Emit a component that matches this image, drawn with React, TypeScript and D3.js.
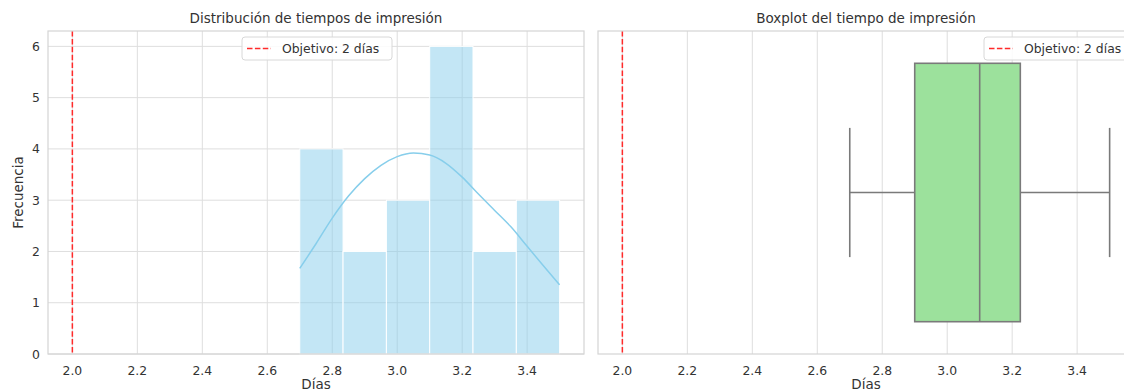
import React from 'react';
import * as d3 from 'd3';

// histogram of printing times (days)
const binEdges = [2.7, 2.8333, 2.9667, 3.1, 3.2333, 3.3667, 3.5];
const binCounts = [4, 2, 3, 6, 2, 3];

// kde curve (scaled to counts)
const kdeDays = [2.7, 2.75, 2.8, 2.85, 2.9, 2.95, 3.0, 3.05, 3.1, 3.15, 3.2, 3.25, 3.3, 3.35, 3.4, 3.45, 3.5];
const kdeFreq = [1.67, 2.15, 2.65, 3.08, 3.42, 3.68, 3.85, 3.92, 3.88, 3.72, 3.45, 3.12, 2.8, 2.48, 2.1, 1.72, 1.35];

// boxplot summary
const boxStats = { low: 2.7, q1: 2.9, median: 3.1, q3: 3.225, high: 3.5 };

const target = 2;
const xTicks = [2.0, 2.2, 2.4, 2.6, 2.8, 3.0, 3.2, 3.4];
const yTicks = [0, 1, 2, 3, 4, 5, 6];

const W = 1124;
const H = 392;
const FONT = 'DejaVu Sans, sans-serif';
const TEXT = '#333333';
const GRID = '#dedede';
const TICK_SIZE = 12.4;
const LABEL_SIZE = 13.5;

export default function App() {
  const ref = React.useRef<SVGSVGElement>(null);

  React.useEffect(() => {
    document.body.style.margin = '0';
    if (!ref.current) return;
    const svg = d3.select(ref.current);
    svg.selectAll('*').remove();

    const top = 31, bottom = 354;

    const drawLegend = (g: any, x0: number) => {
      const w = 150, h = 23;
      const lg = g.append('g').attr('transform', `translate(${x0},${top + 6})`);
      lg.append('rect').attr('width', w).attr('height', h).attr('rx', 3)
        .attr('fill', 'white').attr('fill-opacity', 0.85).attr('stroke', '#d8d8d8');
      lg.append('line').attr('x1', 5).attr('x2', 29).attr('y1', h / 2).attr('y2', h / 2)
        .attr('stroke', '#ff2a2a').attr('stroke-width', 1.5).attr('stroke-dasharray', '5.5,2.4');
      lg.append('text').attr('x', 40).attr('y', h / 2 + 4.5).text('Objetivo: 2 días')
        .attr('font-size', TICK_SIZE).attr('fill', TEXT).attr('font-family', FONT);
    };

    const xAxisStuff = (g: any, x: any, left: number, right: number) => {
      g.append('g').selectAll('line').data(xTicks).enter().append('line')
        .attr('x1', (d: number) => x(d)).attr('x2', (d: number) => x(d))
        .attr('y1', top).attr('y2', bottom).attr('stroke', GRID).attr('stroke-width', 1);
      g.append('g').selectAll('text').data(xTicks).enter().append('text')
        .attr('x', (d: number) => x(d)).attr('y', bottom + 21)
        .attr('text-anchor', 'middle').attr('font-size', TICK_SIZE).attr('fill', TEXT)
        .attr('font-family', FONT).text((d: number) => d3.format('.1f')(d));
      g.append('text').attr('x', (left + right) / 2).attr('y', bottom + 35)
        .attr('text-anchor', 'middle').attr('font-size', LABEL_SIZE).attr('fill', TEXT)
        .attr('font-family', FONT).text('Días');
    };

    /* left panel: histogram + kde */
    {
      const left = 48, right = 584;
      const x = d3.scaleLinear().domain([1.925, 3.575]).range([left, right]);
      const y = d3.scaleLinear().domain([0, 6.3]).range([bottom, top]);
      const g = svg.append('g');

      g.append('g').selectAll('line').data(yTicks).enter().append('line')
        .attr('x1', left).attr('x2', right)
        .attr('y1', (d) => y(d)).attr('y2', (d) => y(d))
        .attr('stroke', GRID).attr('stroke-width', 1);
      g.append('g').selectAll('text').data(yTicks).enter().append('text')
        .attr('x', left - 8).attr('y', (d) => y(d) + 4.5)
        .attr('text-anchor', 'end').attr('font-size', TICK_SIZE).attr('fill', TEXT)
        .attr('font-family', FONT).text((d) => d);
      xAxisStuff(g, x, left, right);

      g.append('text')
        .attr('transform', `translate(23,${(top + bottom) / 2}) rotate(-90)`)
        .attr('text-anchor', 'middle').attr('font-size', LABEL_SIZE).attr('fill', TEXT)
        .attr('font-family', FONT).text('Frecuencia');

      g.append('g').selectAll('rect').data(binCounts).enter().append('rect')
        .attr('x', (d, i) => x(binEdges[i]))
        .attr('width', (d, i) => x(binEdges[i + 1]) - x(binEdges[i]))
        .attr('y', (d) => y(d))
        .attr('height', (d) => y(0) - y(d))
        .attr('fill', '#87ceeb').attr('fill-opacity', 0.5)
        .attr('stroke', 'white').attr('stroke-width', 1);

      const kde = d3.line<number>()
        .x((d, i) => x(kdeDays[i]))
        .y((d) => y(d))
        .curve(d3.curveMonotoneX);
      g.append('path').attr('d', kde(kdeFreq) as string)
        .attr('fill', 'none').attr('stroke', '#87ceeb').attr('stroke-width', 1.5);

      g.append('line').attr('x1', x(target)).attr('x2', x(target))
        .attr('y1', top).attr('y2', bottom)
        .attr('stroke', '#ff2a2a').attr('stroke-width', 1.5).attr('stroke-dasharray', '5.5,2.4');

      g.append('rect').attr('x', left).attr('y', top).attr('width', right - left)
        .attr('height', bottom - top).attr('fill', 'none').attr('stroke', '#d4d4d4').attr('stroke-width', 1.2);

      drawLegend(g, (left + right) / 2 - 74);

      g.append('text').attr('x', (left + right) / 2).attr('y', top - 8)
        .attr('text-anchor', 'middle').attr('font-size', LABEL_SIZE).attr('fill', TEXT)
        .attr('font-family', FONT).text('Distribución de tiempos de impresión');
    }

    /* right panel: boxplot */
    {
      const left = 598, right = 1134;
      const x = d3.scaleLinear().domain([1.925, 3.575]).range([left, right]);
      const y = d3.scaleLinear().domain([0.5, -0.5]).range([bottom, top]);
      const g = svg.append('g');

      xAxisStuff(g, x, left, right);

      const stroke = '#7a7a7a';
      const s = boxStats;
      // whiskers
      g.append('line').attr('x1', x(s.low)).attr('x2', x(s.q1)).attr('y1', y(0)).attr('y2', y(0))
        .attr('stroke', stroke).attr('stroke-width', 1.6);
      g.append('line').attr('x1', x(s.q3)).attr('x2', x(s.high)).attr('y1', y(0)).attr('y2', y(0))
        .attr('stroke', stroke).attr('stroke-width', 1.6);
      [s.low, s.high].forEach((v) => {
        g.append('line').attr('x1', x(v)).attr('x2', x(v)).attr('y1', y(-0.2)).attr('y2', y(0.2))
          .attr('stroke', stroke).attr('stroke-width', 1.6);
      });
      g.append('rect').attr('x', x(s.q1)).attr('width', x(s.q3) - x(s.q1))
        .attr('y', y(-0.4)).attr('height', y(0.4) - y(-0.4))
        .attr('fill', '#9ce19c').attr('stroke', stroke).attr('stroke-width', 1.6);
      g.append('line').attr('x1', x(s.median)).attr('x2', x(s.median))
        .attr('y1', y(-0.4)).attr('y2', y(0.4)).attr('stroke', stroke).attr('stroke-width', 1.6);

      g.append('line').attr('x1', x(target)).attr('x2', x(target))
        .attr('y1', top).attr('y2', bottom)
        .attr('stroke', '#ff2a2a').attr('stroke-width', 1.5).attr('stroke-dasharray', '5.5,2.4');

      g.append('rect').attr('x', left).attr('y', top).attr('width', right - left)
        .attr('height', bottom - top).attr('fill', 'none').attr('stroke', '#d4d4d4').attr('stroke-width', 1.2);

      drawLegend(g, right - 150);

      g.append('text').attr('x', (left + right) / 2).attr('y', top - 8)
        .attr('text-anchor', 'middle').attr('font-size', LABEL_SIZE).attr('fill', TEXT)
        .attr('font-family', FONT).text('Boxplot del tiempo de impresión');
    }
  }, []);

  return <svg ref={ref} width={W} height={H} style={{ display: 'block', background: 'white' }} />;
}
